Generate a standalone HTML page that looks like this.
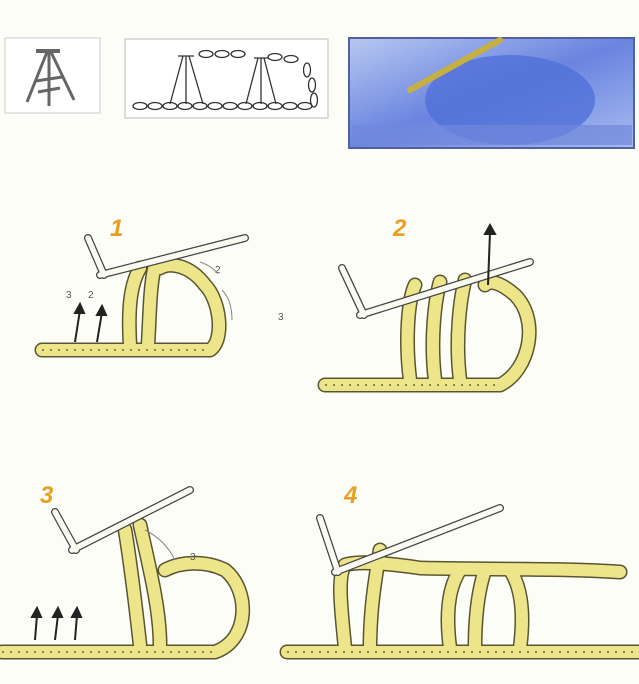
<!DOCTYPE html>
<html><head><style>
html,body{margin:0;padding:0;background:#fdfdf8;}
svg{display:block}
text{font-family:"Liberation Sans",sans-serif}
.n{fill:#e8a020;font-style:italic;font-weight:bold;font-size:24px}
.y1{fill:none;stroke:#5a5530;stroke-width:15;stroke-linecap:round;stroke-linejoin:round}
.y2{fill:none;stroke:#ece58a;stroke-width:12;stroke-linecap:round;stroke-linejoin:round}
.y3{fill:none;stroke:#8a8440;stroke-width:2;stroke-dasharray:2 6}
.h1{fill:none;stroke:#444;stroke-width:8;stroke-linecap:round}
.h2{fill:none;stroke:#fafaf0;stroke-width:5.5;stroke-linecap:round}
</style></head><body>
<svg width="639" height="684" viewBox="0 0 639 684">
<rect x="5" y="38" width="95" height="75" fill="#fff" stroke="#ccc"/>
<g stroke="#666" stroke-width="3">
<line x1="36" y1="51" x2="60" y2="51" stroke-width="4"/>
<line x1="47" y1="52" x2="27" y2="102"/><line x1="49" y1="52" x2="49" y2="106"/><line x1="51" y1="52" x2="74" y2="100"/>
<line x1="36" y1="81" x2="62" y2="77"/><line x1="38" y1="92" x2="60" y2="88"/>
</g>
<rect x="125" y="39" width="203" height="79" fill="#fff" stroke="#bbb"/>
<g fill="none" stroke="#333" stroke-width="1.3">
<g id="ch"><ellipse cx="140" cy="106" rx="7" ry="3.5"/></g>
<use href="#ch" x="15"/><use href="#ch" x="30"/><use href="#ch" x="45"/><use href="#ch" x="60"/><use href="#ch" x="75"/><use href="#ch" x="90"/><use href="#ch" x="105"/><use href="#ch" x="120"/><use href="#ch" x="135"/><use href="#ch" x="150"/><use href="#ch" x="165"/>
<ellipse cx="206" cy="54" rx="7" ry="3.5"/><ellipse cx="222" cy="54" rx="7" ry="3.5"/><ellipse cx="238" cy="54" rx="7" ry="3.5"/>
<ellipse cx="275" cy="57" rx="7" ry="3.5"/><ellipse cx="291" cy="59" rx="7" ry="3.5"/>
<ellipse cx="307" cy="70" rx="3.5" ry="7"/><ellipse cx="312" cy="85" rx="3.5" ry="7"/><ellipse cx="314" cy="100" rx="3.5" ry="7"/>
<path d="M183 56 L170 104 M186 56 L186 104 M189 56 L203 104 M178 56 H194"/>
<path d="M258 58 L246 104 M261 58 L261 104 M264 58 L276 104 M254 58 H268"/>
</g>
<defs><linearGradient id="bl" x1="0" y1="0" x2="1" y2="1"><stop offset="0" stop-color="#b8c8f0"/><stop offset=".5" stop-color="#6a84e0"/><stop offset="1" stop-color="#a8bcf0"/></linearGradient></defs>
<rect x="349" y="38" width="285" height="110" fill="url(#bl)" stroke="#5060a0" stroke-width="2"/>
<ellipse cx="510" cy="100" rx="85" ry="45" fill="#5070d8" opacity=".8"/>
<rect x="352" y="125" width="280" height="20" fill="#7088dc" opacity=".7"/>
<line x1="410" y1="90" x2="500" y2="40" stroke="#c8b040" stroke-width="6" stroke-linecap="round"/>
<text class="n" x="110" y="236">1</text><text class="n" x="393" y="236">2</text>
<text class="n" x="40" y="503">3</text><text class="n" x="344" y="503">4</text>
<g>
<path class="y1" d="M42 350 H210 C225 340 220 300 205 285 C190 265 170 262 160 268 M130 345 C128 310 130 285 140 268 M148 345 C150 310 150 285 155 265"/>
<path class="y2" d="M42 350 H210 C225 340 220 300 205 285 C190 265 170 262 160 268 M130 345 C128 310 130 285 140 268 M148 345 C150 310 150 285 155 265"/>
<path class="y3" d="M42 350 H210"/>
<path class="y1" d="M325 385 H500 C530 370 540 320 515 295 C500 282 490 280 485 285 M410 380 C405 340 408 300 415 285 M435 380 C430 340 435 300 440 282 M460 380 C455 340 460 300 465 280"/>
<path class="y2" d="M325 385 H500 C530 370 540 320 515 295 C500 282 490 280 485 285 M410 380 C405 340 408 300 415 285 M435 380 C430 340 435 300 440 282 M460 380 C455 340 460 300 465 280"/>
<path class="y3" d="M325 385 H500"/>
<path class="y1" d="M2 652 H215 C250 640 250 590 225 570 C205 560 180 562 165 570 M140 645 C135 600 130 560 125 530 M160 645 C160 610 150 570 140 525"/>
<path class="y2" d="M2 652 H215 C250 640 250 590 225 570 C205 560 180 562 165 570 M140 645 C135 600 130 560 125 530 M160 645 C160 610 150 570 140 525"/>
<path class="y3" d="M2 652 H215"/>
<path class="y1" d="M287 652 H639 M345 648 C340 600 338 575 345 565 C360 560 400 565 420 568 C500 570 560 568 620 572 M370 648 C370 610 375 580 380 550 M450 648 C445 610 450 585 460 570 M475 648 C475 610 480 585 485 570 M520 648 C525 610 520 585 510 570"/>
<path class="y2" d="M287 652 H639 M345 648 C340 600 338 575 345 565 C360 560 400 565 420 568 C500 570 560 568 620 572 M370 648 C370 610 375 580 380 550 M450 648 C445 610 450 585 460 570 M475 648 C475 610 480 585 485 570 M520 648 C525 610 520 585 510 570"/>
<path class="y3" d="M287 652 H639"/>
</g>
<g>
<path class="h1" d="M100 275 L245 238 M88 238 L104 275"/><path class="h2" d="M100 275 L245 238 M88 238 L104 275"/>
<path class="h1" d="M360 315 L530 262 M342 268 L364 315"/><path class="h2" d="M360 315 L530 262 M342 268 L364 315"/>
<path class="h1" d="M72 550 L190 490 M55 512 L76 550"/><path class="h2" d="M72 550 L190 490 M55 512 L76 550"/>
<path class="h1" d="M335 572 L500 508 M320 518 L338 572"/><path class="h2" d="M335 572 L500 508 M320 518 L338 572"/>
</g>
<g stroke="#222" stroke-width="2" fill="#222">
<line x1="75" y1="342" x2="80" y2="310"/><path d="M80 304 l-5 9 h9z"/>
<line x1="97" y1="342" x2="102" y2="312"/><path d="M102 306 l-5 9 h9z"/>
<line x1="488" y1="285" x2="490" y2="232"/><path d="M490 225 l-5 9 h10z"/>
<line x1="35" y1="640" x2="37" y2="615"/><path d="M37 608 l-5 9 h9z"/>
<line x1="55" y1="640" x2="58" y2="615"/><path d="M58 608 l-5 9 h9z"/>
<line x1="75" y1="640" x2="77" y2="615"/><path d="M77 608 l-5 9 h9z"/>
</g>
<g fill="#555" font-size="10"><text x="66" y="298">3</text><text x="88" y="298">2</text><text x="215" y="273">2</text><text x="278" y="320">3</text><text x="190" y="560">3</text></g>
<path d="M200 262 q12 4 18 12 M222 290 q10 10 10 30" stroke="#888" fill="none"/>
<path d="M145 530 q20 10 30 30" stroke="#888" fill="none"/>
</svg>
</body></html>
